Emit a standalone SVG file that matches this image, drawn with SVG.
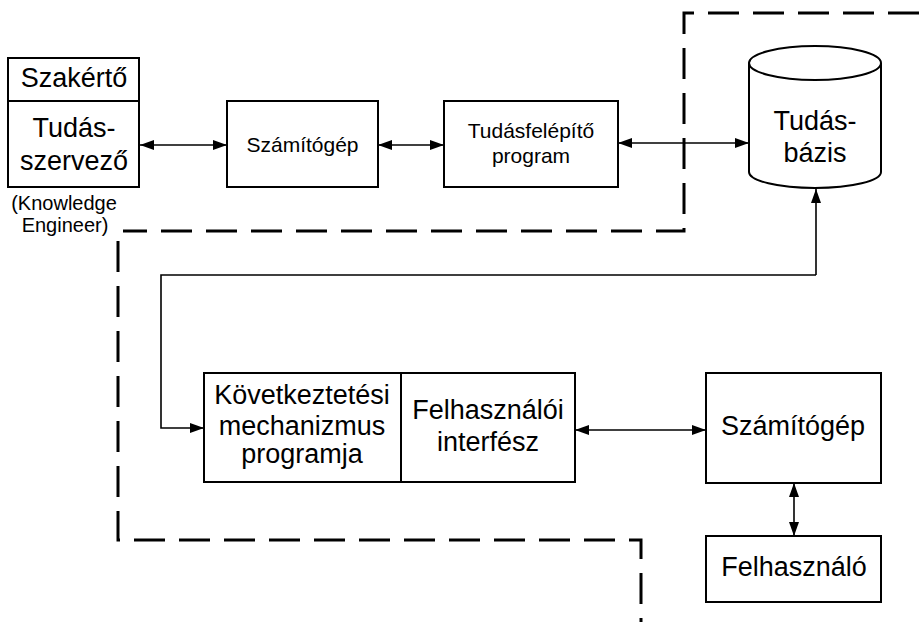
<svg xmlns="http://www.w3.org/2000/svg" width="919" height="622" viewBox="0 0 919 622">
<style>
.box{fill:#fff;stroke:#000;stroke-width:2}
.t{font-family:"Liberation Sans",Arial,sans-serif;fill:#000;text-anchor:middle}
.big{font-size:27px}
.sm{font-size:21px}
.con{fill:none;stroke:#000;stroke-width:1.6}
.dash{fill:none;stroke:#000;stroke-width:3;stroke-dasharray:31 14}
</style>
<defs>
<marker id="ah" viewBox="0 0 14 10" refX="14" refY="5" markerWidth="14" markerHeight="10" markerUnits="userSpaceOnUse" orient="auto-start-reverse">
<path d="M0,0 L14,5 L0,10 Z" fill="#000"/>
</marker>
</defs>
<rect width="919" height="622" fill="#fff"/>
<g id="boundary">
<path class="dash" d="M919,13 H684 V231 H123"/>
<path class="dash" d="M118,241 V540 H641 V622"/>
</g>
<g id="connectors">
<line class="con" x1="140" y1="145" x2="227" y2="145" marker-start="url(#ah)" marker-end="url(#ah)"/>
<line class="con" x1="378" y1="145" x2="444" y2="145" marker-start="url(#ah)" marker-end="url(#ah)"/>
<line class="con" x1="618" y1="143" x2="749" y2="143" marker-start="url(#ah)" marker-end="url(#ah)"/>
<path class="con" d="M816,275 V189" marker-end="url(#ah)"/>
<path class="con" d="M816,275 H161 V428 H204" marker-end="url(#ah)"/>
<line class="con" x1="575" y1="430" x2="706" y2="430" marker-start="url(#ah)" marker-end="url(#ah)"/>
<line class="con" x1="794" y1="483" x2="794" y2="536" marker-start="url(#ah)" marker-end="url(#ah)"/>
</g>
<g id="szakerto">
<rect class="box" x="8" y="58" width="131" height="129"/>
<line x1="8" y1="101" x2="139" y2="101" stroke="#000" stroke-width="2"/>
<text class="t big" x="74" y="87">Szakértő</text>
<text class="t big" x="74" y="137">Tudás-</text>
<text class="t big" x="74" y="170">szervező</text>
<text class="t" style="font-size:20px" x="64" y="210">(Knowledge</text>
<text class="t" style="font-size:20px" x="65" y="232">Engineer)</text>
</g>
<g id="szamitogep1">
<rect class="box" x="227" y="101" width="151" height="86"/>
<text class="t sm" x="302.5" y="152">Számítógép</text>
</g>
<g id="tudasfelepito">
<rect class="box" x="444" y="101" width="174" height="86"/>
<text class="t sm" x="531" y="138">Tudásfelépítő</text>
<text class="t sm" x="531" y="163">program</text>
</g>
<g id="tudasbazis">
<path class="box" d="M749,63 A66,17 0 0 1 881,63 V172 A66,16 0 0 1 749,172 Z"/>
<path class="box" d="M749,63 A66,17 0 0 0 881,63" fill="none"/>
<text class="t big" x="815" y="130">Tudás-</text>
<text class="t big" x="815" y="162">bázis</text>
</g>
<g id="kovetkeztetesi">
<rect class="box" x="204" y="373" width="197" height="109"/>
<text class="t big" x="302" y="404">Következtetési</text>
<text class="t big" x="302" y="435">mechanizmus</text>
<text class="t big" x="302" y="463">programja</text>
</g>
<g id="felhasznaloi">
<rect class="box" x="401" y="373" width="174" height="109"/>
<text class="t big" x="488" y="419">Felhasználói</text>
<text class="t big" x="488" y="451">interfész</text>
</g>
<g id="szamitogep2">
<rect class="box" x="706" y="373" width="175" height="110"/>
<text class="t big" x="793" y="435">Számítógép</text>
</g>
<g id="felhasznalo">
<rect class="box" x="706" y="536" width="175" height="66"/>
<text class="t big" x="794" y="576">Felhasználó</text>
</g>
</svg>
